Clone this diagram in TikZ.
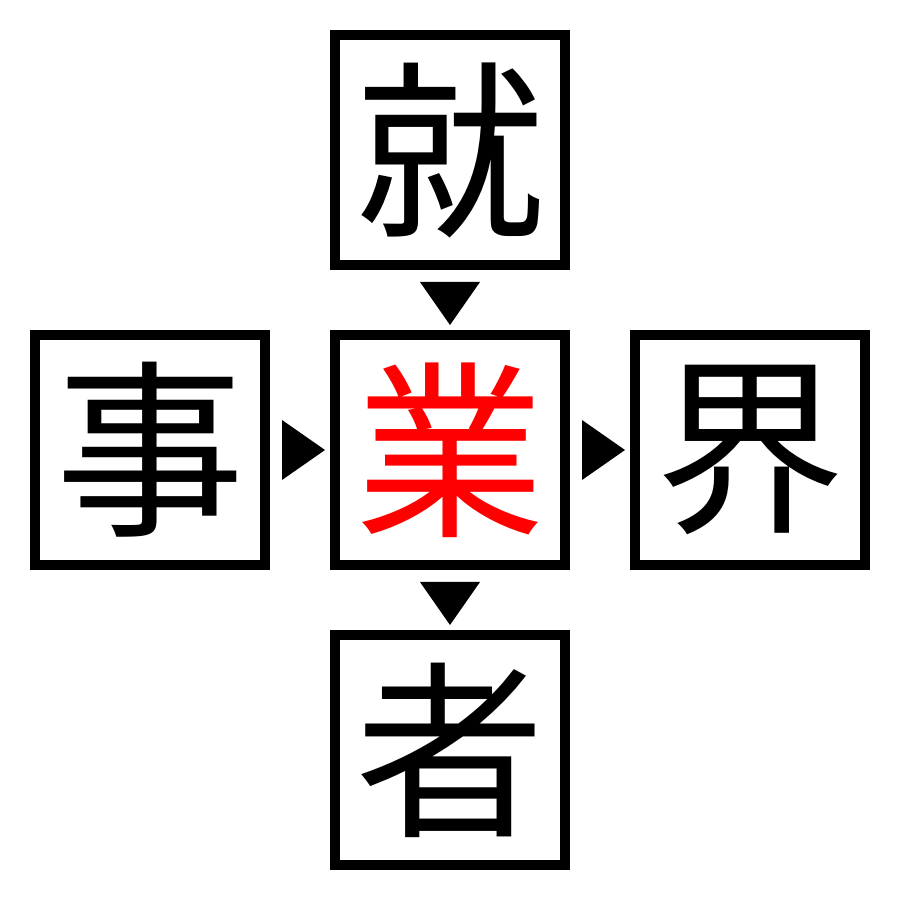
\documentclass[tikz,border=0pt]{standalone}
\usepackage{fontspec}
\newfontfamily\cjk{Noto Sans CJK JP}
\usetikzlibrary{calc,positioning}

\begin{document}
\begin{tikzpicture}[kanji/.style = {draw, line width=0.1cm, minimum size=2.3cm, inner sep=0pt, font=\cjk\fontsize{54}{54}\selectfont},]
\useasboundingbox (0,0) rectangle (9,9);
\node (Jiu) at (4.5,7.5)[kanji] {就};
\node (Gyo) at (4.5,4.5)[kanji,text=red] {業};
\node (Ji) at (1.5,4.5)[kanji] {事};
\node (Kai) at (7.5,4.5)[kanji] {界};
\node (Sha) at (4.5,1.5)[kanji] {者};
\fill ($(Jiu.south)+(-0.3,-0.12)$)--($(Jiu.south)+(0.3,-0.12)$)--($(Jiu.south)+(0,-0.55)$)--cycle;
\fill ($(Gyo.south)+(-0.3,-0.12)$)--($(Gyo.south)+(0.3,-0.12)$)--($(Gyo.south)+(0,-0.55)$)--cycle;
\fill ($(Ji.east)+(0.12,0.3)$)--($(Ji.east)+(0.12,-0.3)$)--($(Ji.east)+(0.55,0)$)--cycle;
\fill ($(Gyo.east)+(0.12,0.3)$)--($(Gyo.east)+(0.12,-0.3)$)--($(Gyo.east)+(0.55,0)$)--cycle;
\end{tikzpicture}
\end{document}
